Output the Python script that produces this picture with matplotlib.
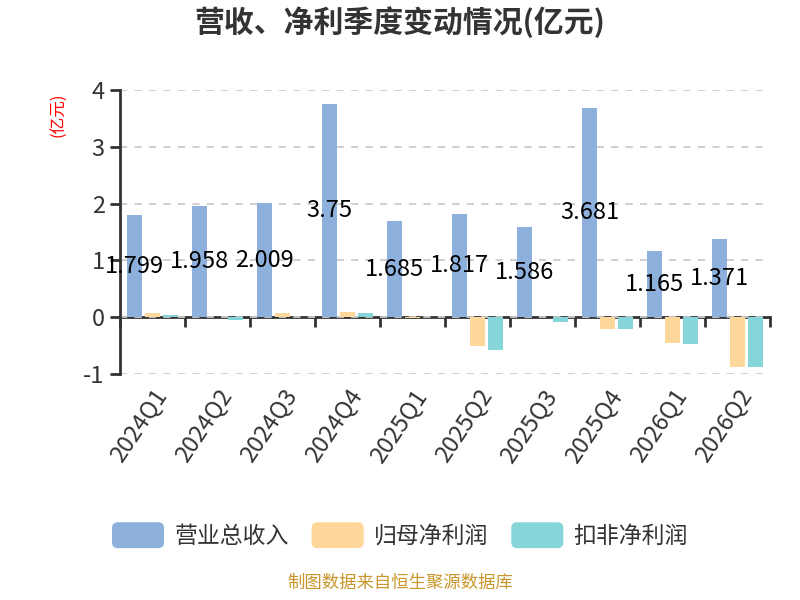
import numpy as np
import matplotlib
matplotlib.use("Agg")
import matplotlib.pyplot as plt
from matplotlib.patches import Patch, FancyBboxPatch
from matplotlib.legend_handler import HandlerPatch

plt.rcParams['font.family'] = ['Noto Sans CJK SC', 'DejaVu Sans']
plt.rcParams['axes.unicode_minus'] = False

# 数据 (亿元)
quarters = ["2024Q1", "2024Q2", "2024Q3", "2024Q4", "2025Q1",
            "2025Q2", "2025Q3", "2025Q4", "2026Q1", "2026Q2"]
revenue = [1.799, 1.958, 2.009, 3.75, 1.685, 1.817, 1.586, 3.681, 1.165, 1.371]
net_profit = [0.065, -0.005, 0.08, 0.10, -0.01, -0.50, -0.005, -0.20, -0.46, -0.87]
net_profit_deducted = [0.047, -0.05, 0.005, 0.08, 0.01, -0.57, -0.076, -0.21, -0.47, -0.88]
series_names = ["营业总收入", "归母净利润", "扣非净利润"]
colors = ["#8eb0dc", "#fdd89a", "#86d5d8"]


class RoundHandler(HandlerPatch):
    def create_artists(self, legend, orig_handle, xdescent, ydescent,
                       width, height, fontsize, trans):
        p = FancyBboxPatch((-xdescent, -ydescent), width, height,
                           boxstyle="round,pad=0,rounding_size=%f" % (height * 0.22),
                           fc=orig_handle.get_facecolor(), ec="none",
                           transform=trans)
        return [p]


fig = plt.figure(figsize=(8, 6), dpi=100)
ax = fig.add_axes([0.15, 0.3767, 0.8125, 0.4733])

x = np.arange(len(quarters))
w = 0.245
off = 0.277
ax.bar(x - off, revenue, w, color=colors[0], zorder=3)
ax.bar(x, net_profit, w, color=colors[1], zorder=3)
ax.bar(x + off, net_profit_deducted, w, color=colors[2], zorder=3)

for xi, v in zip(x, revenue):
    ax.text(xi - off, v / 2, f"{v:g}", ha="center", va="center",
            fontsize=17, color="black", zorder=5)

ax.set_ylim(-1, 4)
ax.set_xlim(-0.5, len(quarters) - 0.5)
ax.set_yticks([-1, 0, 1, 2, 3, 4])
ax.yaxis.grid(True, color="#cccccc", linestyle=(0, (4, 4)), linewidth=1.3, zorder=0)

for s in ["top", "right", "bottom"]:
    ax.spines[s].set_visible(False)
ax.spines["left"].set_color("#333333")
ax.spines["left"].set_linewidth(2)
ax.tick_params(axis="y", length=7, width=2, color="#333333", pad=4,
               labelsize=17, labelcolor="#333333")

ax.set_xticks(x)
ax.set_xticklabels(quarters, rotation=56, ha="right", rotation_mode="anchor",
                   fontsize=17, color="#333333")
ax.tick_params(axis="x", length=0, pad=8)

# 零轴与分隔刻度
sec = ax.secondary_xaxis(0.2)
sec.set_xticks(np.arange(len(quarters) + 1) - 0.5)
sec.tick_params(axis="x", length=7, width=2, color="#333333",
                labelbottom=False, labeltop=False)
sec.spines["top"].set_visible(False)
sec.spines["bottom"].set_color("#333333")
sec.spines["bottom"].set_linewidth(2)

fig.text(0.5, 0.963, "营收、净利季度变动情况(亿元)", ha="center", va="center",
         fontsize=21.5, fontweight="bold", color="#333333")
fig.text(0.073, 0.808, "(亿元)", rotation=90, ha="center", va="center",
         fontsize=12, color="red")

handles = [Patch(facecolor=c, label=n) for c, n in zip(colors, series_names)]
fig.legend(handles=handles, loc="center", bbox_to_anchor=(0.5, 0.108), ncol=3,
           frameon=False, fontsize=16.5, labelcolor="#333333",
           handlelength=2.27, handleheight=1.36, handletextpad=0.45,
           columnspacing=1.0, handler_map={Patch: RoundHandler()})

fig.text(0.5, 0.028, "制图数据来自恒生聚源数据库", ha="center", va="center",
         fontsize=12.5, color="#c8962a")

fig.savefig("out.png", dpi=100)
